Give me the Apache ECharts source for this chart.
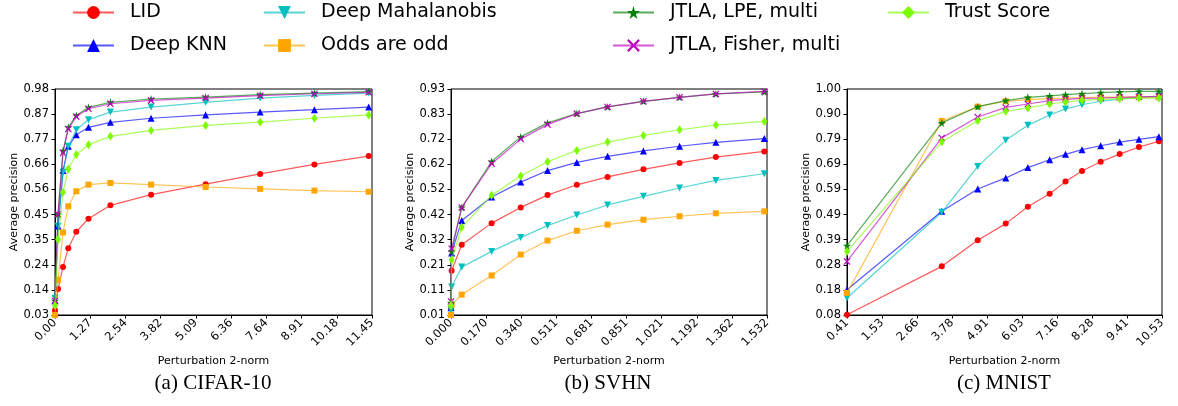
<!DOCTYPE html>
<html>
<head>
<meta charset="utf-8">
<script src="https://cdn.jsdelivr.net/npm/echarts@6/dist/echarts.min.js"></script>
<style>
  html, body { margin: 0; padding: 0; background: #fff; }
  #chart { width: 1178px; height: 406px; }
</style>
</head>
<body>
<div id="chart"></div>
<script>
// method names, in legend (column-major) order
const methods = ['LID', 'Deep KNN', 'Deep Mahalanobis', 'Odds are odd', 'JTLA, LPE, multi', 'JTLA, Fisher, multi', 'Trust Score']

// (a) CIFAR-10
const cifarX = [0, 0.11, 0.29, 0.48, 0.77, 1.21, 2.00, 3.47, 5.44, 7.41, 9.37, 11.33]
const cifarLid = [0.05, 0.139, 0.232, 0.311, 0.380, 0.435, 0.491, 0.536, 0.580, 0.623, 0.663, 0.698]
const cifarKnn = [0.09, 0.403, 0.637, 0.739, 0.788, 0.819, 0.840, 0.857, 0.871, 0.883, 0.893, 0.904]
const cifarMaha = [0.10, 0.403, 0.630, 0.739, 0.809, 0.851, 0.883, 0.904, 0.924, 0.942, 0.953, 0.963]
const cifarOdds = [0.03, 0.178, 0.377, 0.487, 0.550, 0.578, 0.585, 0.578, 0.568, 0.560, 0.553, 0.548]
const cifarLpe = [0.09, 0.454, 0.721, 0.819, 0.869, 0.903, 0.924, 0.938, 0.946, 0.956, 0.963, 0.969]
const cifarFisher = [0.09, 0.454, 0.711, 0.812, 0.864, 0.897, 0.918, 0.932, 0.942, 0.952, 0.960, 0.966]
const cifarTrust = [0.07, 0.347, 0.546, 0.644, 0.705, 0.746, 0.781, 0.806, 0.827, 0.841, 0.857, 0.871]
const cifarXTicks = ['0.00', '1.27', '2.54', '3.82', '5.09', '6.36', '7.64', '8.91', '10.18', '11.45']
const cifarYTicks = ['0.03', '0.14', '0.24', '0.35', '0.45', '0.56', '0.66', '0.77', '0.87', '0.98']

// (b) SVHN
const svhnX = [0, 0.003, 0.052, 0.197, 0.338, 0.468, 0.610, 0.759, 0.933, 1.108, 1.284, 1.519]
const svhnLid = [0.04, 0.190, 0.296, 0.384, 0.448, 0.498, 0.540, 0.572, 0.603, 0.629, 0.653, 0.676]
const svhnKnn = [0.04, 0.262, 0.395, 0.490, 0.551, 0.598, 0.631, 0.656, 0.678, 0.697, 0.713, 0.728]
const svhnMaha = [0.03, 0.124, 0.205, 0.269, 0.325, 0.374, 0.417, 0.458, 0.493, 0.527, 0.558, 0.585]
const svhnOdds = [0.01, 0.052, 0.093, 0.171, 0.256, 0.313, 0.353, 0.378, 0.398, 0.412, 0.424, 0.432]
const svhnLpe = [0.06, 0.27, 0.448, 0.635, 0.735, 0.792, 0.830, 0.857, 0.880, 0.896, 0.910, 0.918]
const svhnFisher = [0.065, 0.28, 0.448, 0.626, 0.726, 0.785, 0.830, 0.857, 0.880, 0.896, 0.910, 0.920]
const svhnTrust = [0.05, 0.235, 0.367, 0.497, 0.576, 0.634, 0.680, 0.714, 0.741, 0.764, 0.783, 0.798]
const svhnXTicks = ['0.000', '0.170', '0.340', '0.511', '0.681', '0.851', '1.021', '1.192', '1.362', '1.532']
const svhnYTicks = ['0.01', '0.11', '0.21', '0.32', '0.42', '0.52', '0.62', '0.72', '0.83', '0.93']

// (c) MNIST
const mnistX = [0.41, 3.455, 4.61, 5.51, 6.22, 6.92, 7.43, 7.96, 8.56, 9.17, 9.79, 10.43]
const mnistLid = [0.081, 0.278, 0.384, 0.452, 0.521, 0.574, 0.623, 0.666, 0.704, 0.735, 0.764, 0.787]
const mnistKnn = [0.183, 0.502, 0.593, 0.638, 0.680, 0.712, 0.734, 0.753, 0.769, 0.784, 0.795, 0.806]
const mnistMaha = [0.149, 0.498, 0.685, 0.791, 0.852, 0.894, 0.919, 0.936, 0.950, 0.959, 0.966, 0.970]
const mnistOdds = [0.170, 0.870, 0.928, 0.950, 0.957, 0.961, 0.963, 0.965, 0.967, 0.967, 0.967, 0.967]
const mnistLpe = [0.362, 0.862, 0.928, 0.953, 0.966, 0.972, 0.977, 0.981, 0.985, 0.988, 0.990, 0.990]
const mnistFisher = [0.298, 0.801, 0.886, 0.925, 0.939, 0.953, 0.958, 0.962, 0.963, 0.966, 0.968, 0.970]
const mnistTrust = [0.339, 0.785, 0.871, 0.909, 0.923, 0.939, 0.947, 0.954, 0.958, 0.960, 0.962, 0.963]
const mnistXTicks = ['0.41', '1.53', '2.66', '3.78', '4.91', '6.03', '7.16', '8.28', '9.41', '10.53']
const mnistYTicks = ['0.08', '0.18', '0.28', '0.39', '0.49', '0.59', '0.69', '0.79', '0.90', '1.00']

const captions = ['(a) CIFAR-10', '(b) SVHN', '(c) MNIST']

const STAR = 'path://M50,0 L61,35 L98,35 L68,57 L79,91 L50,70 L21,91 L32,57 L2,35 L39,35 Z'
const CROSS = 'path://M0,12 L12,0 L50,38 L88,0 L100,12 L62,50 L100,88 L88,100 L50,62 L12,100 L0,88 L38,50 Z'

const styles = [
  { color: '#ff0000', symbol: 'circle', size: 6 },
  { color: '#0000ff', symbol: 'triangle', size: 7 },
  { color: '#00bfbf', symbol: 'triangle', size: 7, rotate: 180 },
  { color: '#ffa500', symbol: 'rect', size: 6 },
  { color: '#008000', symbol: STAR, size: 8 },
  { color: '#bf00bf', symbol: CROSS, size: 7 },
  { color: '#7cfc00', symbol: 'diamond', size: [6, 9] }
]

const panels = [
  { grid: { left: 55, top: 89, width: 317, height: 226 }, cx: 213,
    x: cifarX, xMin: 0, xMax: 11.45, xTicks: cifarXTicks, yMin: 0.03, yMax: 0.98, yTicks: cifarYTicks,
    lines: [cifarLid, cifarKnn, cifarMaha, cifarOdds, cifarLpe, cifarFisher, cifarTrust] },
  { grid: { left: 451, top: 89, width: 316, height: 226 }, cx: 608,
    x: svhnX, xMin: 0, xMax: 1.532, xTicks: svhnXTicks, yMin: 0.01, yMax: 0.93, yTicks: svhnYTicks,
    lines: [svhnLid, svhnKnn, svhnMaha, svhnOdds, svhnLpe, svhnFisher, svhnTrust] },
  { grid: { left: 847, top: 89, width: 315, height: 226 }, cx: 1004,
    x: mnistX, xMin: 0.41, xMax: 10.53, xTicks: mnistXTicks, yMin: 0.08, yMax: 1.00, yTicks: mnistYTicks,
    lines: [mnistLid, mnistKnn, mnistMaha, mnistOdds, mnistLpe, mnistFisher, mnistTrust] }
]

const FONT = 'DejaVu Sans'

function tickValues(min, max, labels) {
  const step = (max - min) / (labels.length - 1)
  return labels.map((_, i) => min + i * step)
}

function labelFor(min, max, labels) {
  const step = (max - min) / (labels.length - 1)
  return (value) => labels[Math.round((value - min) / step)] ?? ''
}

function axisCommon() {
  return {
    axisLine: { show: true, onZero: false, lineStyle: { color: '#000', width: 1 } },
    splitLine: { show: false },
    nameTextStyle: { color: '#000', fontSize: 11, fontFamily: FONT }
  }
}

const xAxes = panels.map((p, i) => {
  const ticks = tickValues(p.xMin, p.xMax, p.xTicks)
  return {
    ...axisCommon(),
    type: 'value', gridIndex: i, min: p.xMin, max: p.xMax,
    name: 'Perturbation 2-norm', nameLocation: 'middle', nameGap: 35,
    axisTick: { show: true, inside: false, length: 3.5, customValues: ticks, lineStyle: { color: '#000' } },
    axisLabel: { customValues: ticks, rotate: 45, margin: 6, color: '#000', fontSize: 11.5, fontFamily: FONT,
      formatter: labelFor(p.xMin, p.xMax, p.xTicks) }
  }
})

const yAxes = panels.map((p, i) => {
  const ticks = tickValues(p.yMin, p.yMax, p.yTicks)
  return {
    ...axisCommon(),
    type: 'value', gridIndex: i, min: p.yMin, max: p.yMax,
    name: 'Average precision', nameLocation: 'middle', nameGap: 34,
    axisTick: { show: true, inside: false, length: 3.5, customValues: ticks, lineStyle: { color: '#000' } },
    axisLabel: { customValues: ticks, margin: 6, color: '#000', fontSize: 11.5, fontFamily: FONT,
      formatter: labelFor(p.yMin, p.yMax, p.yTicks) }
  }
})

const series = []
panels.forEach((p, i) => {
  p.lines.forEach((values, k) => {
    const s = styles[k]
    series.push({
      name: methods[k],
      type: 'line',
      xAxisIndex: i,
      yAxisIndex: i,
      data: p.x.map((x, j) => [x, values[j]]),
      symbol: s.symbol,
      symbolSize: s.size,
      symbolRotate: s.rotate || 0,
      showAllSymbol: true,
      itemStyle: { color: s.color },
      lineStyle: { color: s.color, width: 1.2, opacity: 0.65 },
      emphasis: { disabled: true },
      z: 2 + k
    })
  })
})

const legendBase = {
  orient: 'vertical',
  top: 3,
  padding: 0,
  itemWidth: 41,
  itemHeight: 16,
  itemGap: 14,
  textStyle: { color: '#000', fontSize: 19, fontFamily: FONT, padding: [0, 0, 0, 11] },
  selectedMode: false
}

const option = {
  animation: false,
  backgroundColor: '#fff',
  grid: panels.map((p) => ({ ...p.grid, show: true, borderColor: '#000', borderWidth: 1, backgroundColor: 'transparent' })),
  xAxis: xAxes,
  yAxis: yAxes,
  legend: [
    { ...legendBase, left: 72, data: [methods[0], methods[1]] },
    { ...legendBase, left: 263, data: [methods[2], methods[3]] },
    { ...legendBase, left: 612, data: [methods[4], methods[5]] },
    { ...legendBase, left: 887, data: [methods[6]] }
  ],
  graphic: panels.map((p, i) => ({
    type: 'text',
    x: p.cx,
    y: 373,
    style: { text: captions[i], fill: '#000', font: '21px "Liberation Serif"', textAlign: 'center' }
  })),
  series
}

const chart = echarts.init(document.getElementById('chart'))
chart.setOption(option)
</script>
</body>
</html>
